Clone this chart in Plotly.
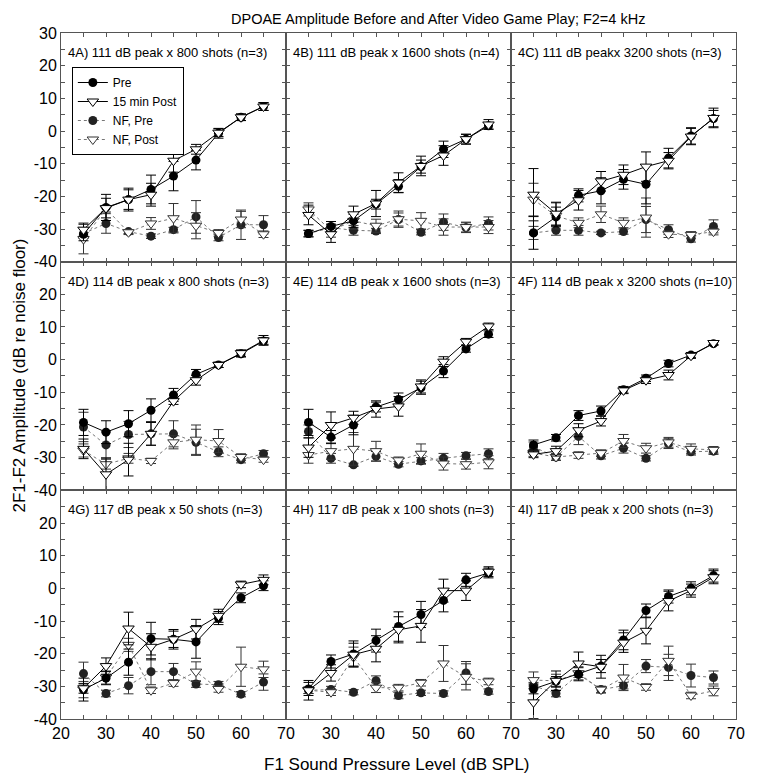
import plotly.graph_objects as go

# ---------------- data ----------------
LEVELS = [25, 30, 35, 40, 45, 50, 55, 60, 65]
PANEL_TITLES = [
    "4A) 111 dB peak x 800 shots (n=3)",
    "4B) 111 dB peak x 1600 shots (n=4)",
    "4C) 111 dB peakx 3200 shots (n=3)",
    "4D) 114 dB peak x 800 shots (n=3)",
    "4E) 114 dB peak x 1600 shots (n=3)",
    "4F) 114 dB peak x 3200 shots (n=10)",
    "4G) 117 dB peak x 50 shots (n=3)",
    "4H) 117 dB peak x 100 shots (n=3)",
    "4I) 117 dB peak x 200 shots (n=3)",
]
SERIES_NAMES = ["Pre", "15 min Post", "NF, Pre", "NF, Post"]
X_TICKS = [20, 30, 40, 50, 60, 70]
Y_TICKS = [-40, -30, -20, -10, 0, 10, 20, 30]

# 4A
pre_4A = [-31.6, -23.4, -21.0, -17.9, -13.8, -8.9, -0.7, 4.2, 7.5]
pre_err_4A = [2, 4, 3.5, 4.4, 4.5, 3, 1.5, 1, 1.2]
post_4A = [-30.2, -23.6, -21.0, -19.5, -9.1, -5.6, -0.5, 4.2, 7.5]
post_err_4A = [2, 3, 3, 3.5, 3.5, 1.5, 1.2, 1, 1.2]
nfpre_4A = [-31.4, -28.3, -30.8, -32.2, -30.2, -26.3, -32.6, -28.7, -28.7]
nfpre_err_4A = [1.5, 3, 0.6, 0.7, 0.7, 5, 1, 4.5, 2.8]
nfpost_4A = [-33.1, -23.8, -31.0, -28.3, -26.7, -29.0, -31.2, -27.1, -31.6]
nfpost_err_4A = [4.5, 1, 0.7, 1.8, 4.5, 4, 1, 2.5, 1]

# 4B
pre_4B = [-31.4, -29.2, -27.5, -22.4, -16.9, -10.9, -5.6, -2.5, 1.6]
pre_err_4B = [1, 1.5, 2, 1.5, 2, 2, 2.5, 1.5, 1]
post_4B = [-25.7, -31.6, -25.5, -22.2, -15.8, -10.7, -7.5, -2.5, 2.0]
post_err_4B = [3, 2.5, 2.5, 4, 3, 3, 3, 1.5, 1.5]
nfpre_4B = [-31.4, -29.6, -30.4, -30.6, -27.1, -31.0, -27.9, -29.6, -28.3]
nfpre_err_4B = [1, 1, 1.5, 0.8, 2, 0.8, 2.5, 1.5, 2]
nfpost_4B = [-24.0, -30.5, -27.5, -29.0, -27.0, -27.5, -29.4, -29.4, -29.4]
nfpost_err_4B = [2, 2, 2.5, 2, 2.5, 2.5, 2.5, 1.5, 2]

# 4C
pre_4C = [-31.2, -26.3, -19.7, -18.3, -14.8, -16.3, -8.3, -1.5, 3.8]
pre_err_4C = [5, 3, 2, 4, 3, 6, 3, 2.5, 2.5]
post_4C = [-19.5, -25.3, -21.2, -15.4, -13.4, -10.9, -9.1, -1.7, 4.0]
post_err_4C = [8, 3.5, 3, 3, 3, 4.5, 2.5, 2.5, 3]
nfpre_4C = [-31.2, -30.4, -30.4, -31.2, -30.8, -27.1, -30.2, -33.0, -29.2]
nfpre_err_4C = [2, 1.5, 1.5, 0.5, 0.8, 4, 1.5, 1, 2]
nfpost_4C = [-21.0, -26.0, -28.1, -25.5, -28.1, -26.5, -31.6, -31.8, -30.8]
nfpost_err_4C = [5, 4, 1.5, 2.5, 1.5, 6, 1, 1, 1]

# 4D
pre_4D = [-19.2, -22.2, -19.6, -15.5, -10.8, -4.5, -1.6, 1.8, 5.7]
pre_err_4D = [4, 3.5, 4, 3.5, 2, 1.5, 0.8, 1, 1]
post_4D = [-27.3, -35.1, -30.6, -22.7, -12.7, -6.3, -1.6, 2.0, 5.9]
post_err_4D = [3, 5, 5, 3.5, 1, 1.5, 0.8, 1, 1.5]
nfpre_4D = [-20.6, -26.1, -22.9, -22.7, -22.7, -25.3, -28.2, -30.6, -28.8]
nfpre_err_4D = [4.5, 4, 4, 3.5, 4, 4, 1.5, 1, 1]
nfpost_4D = [-27.8, -32.0, -30.2, -31.0, -25.3, -24.5, -24.9, -29.8, -30.6]
nfpost_err_4D = [2, 1.5, 1.5, 0.8, 2, 4.5, 3.5, 1, 0.8]

# 4E
pre_4E = [-19.2, -23.7, -20.0, -14.5, -12.2, -8.6, -3.5, 3.3, 7.8]
pre_err_4E = [4, 2, 3, 1.5, 2, 2, 2, 1, 1]
post_4E = [-26.9, -20.0, -17.8, -15.1, -14.3, -8.2, -0.6, 5.5, 10.2]
post_err_4E = [3, 4, 2, 2.5, 3, 2, 1.5, 1, 1]
nfpre_4E = [-22.0, -30.2, -32.2, -29.6, -32.0, -31.0, -30.2, -29.4, -28.8]
nfpre_err_4E = [2, 1.5, 0.5, 1.5, 0.8, 1, 1.5, 1, 1.5]
nfpost_4E = [-29.2, -28.0, -27.3, -28.0, -30.8, -28.8, -31.8, -32.0, -31.4]
nfpost_err_4E = [2.5, 2.5, 5, 3, 1, 3, 2, 1.5, 2]

# 4F
pre_4F = [-26.1, -23.9, -17.1, -15.7, -9.2, -5.7, -1.2, 1.4, 4.9]
pre_err_4F = [1.5, 1, 1.5, 1.5, 1, 1, 1, 0.8, 0.5]
post_4F = [-29.0, -28.0, -21.6, -18.8, -9.4, -6.3, -4.7, 1.2, 5.1]
post_err_4F = [1, 1.5, 2, 1.5, 1, 1, 1.5, 0.8, 0.5]
nfpre_4F = [-26.7, -29.8, -23.5, -29.4, -27.1, -30.2, -25.7, -28.2, -28.0]
nfpre_err_4F = [1.5, 1, 2.5, 1, 1.5, 0.8, 1.5, 1, 1]
nfpost_4F = [-28.6, -29.8, -29.2, -28.6, -24.9, -27.1, -25.3, -27.3, -27.6]
nfpost_err_4F = [1, 1, 1, 1, 2, 1.5, 1.5, 1.5, 1]

# 4G
pre_4G = [-31.0, -27.5, -22.6, -15.4, -15.6, -16.4, -9.1, -2.9, 0.8]
pre_err_4G = [3.5, 2, 4, 5, 2.5, 5, 2, 1.5, 1.5]
post_4G = [-30.6, -23.8, -12.3, -17.9, -15.6, -12.5, -8.4, 1.2, 2.6]
post_err_4G = [1.5, 2.5, 5, 4, 3, 3, 2, 1, 1.5]
nfpre_4G = [-26.1, -32.2, -29.8, -25.5, -25.5, -29.3, -29.5, -32.4, -28.7]
nfpre_err_4G = [3.5, 1, 2.5, 4, 2.5, 1, 1, 0.8, 2.5]
nfpost_4G = [-31.0, -27.3, -17.3, -31.2, -29.0, -25.5, -30.8, -24.0, -24.8]
nfpost_err_4G = [2.5, 2, 2, 1, 1, 3, 1, 6, 2.5]

# 4H
pre_4H = [-30.8, -22.4, -20.1, -16.0, -11.7, -8.0, -3.7, 2.6, 4.7]
pre_err_4H = [2, 2, 4, 3.5, 4.5, 4, 3.5, 2, 1.5]
post_4H = [-31.2, -25.9, -20.3, -18.5, -12.7, -11.5, -0.7, -0.7, 5.1]
post_err_4H = [3, 2.5, 3.5, 4, 4, 5, 3.5, 3, 1.5]
nfpre_4H = [-31.2, -31.0, -31.8, -28.3, -32.8, -32.0, -32.2, -25.9, -31.6]
nfpre_err_4H = [1, 1, 0.8, 1.5, 1, 0.8, 0.8, 3.5, 0.8]
nfpost_4H = [-31.2, -31.8, -21.0, -30.4, -30.4, -28.9, -23.0, -27.1, -28.5]
nfpost_err_4H = [1, 1, 3, 1.5, 1, 1, 5.5, 4, 1]

# 4I
pre_4I = [-30.8, -28.5, -26.3, -23.8, -15.8, -6.8, -2.5, 0.0, 3.9]
pre_err_4I = [1.5, 1.5, 2, 2, 3, 2, 2, 2, 2]
post_4I = [-34.9, -28.3, -23.0, -24.0, -16.6, -13.0, -3.9, -0.7, 3.4]
post_err_4I = [5, 3, 3.5, 3.5, 3, 4, 3, 2, 2]
nfpre_4I = [-29.8, -32.2, -26.3, -31.0, -29.8, -23.8, -24.2, -26.7, -27.3]
nfpre_err_4I = [1, 1, 1, 1, 1, 2, 4, 3.5, 2]
nfpost_4I = [-28.1, -28.3, -26.0, -31.0, -27.3, -30.2, -22.2, -32.8, -31.4]
nfpost_err_4I = [2.5, 2, 2, 1, 4, 1, 4.5, 1, 1.5]

PANELS = [
    (pre_4A, pre_err_4A, post_4A, post_err_4A, nfpre_4A, nfpre_err_4A, nfpost_4A, nfpost_err_4A),
    (pre_4B, pre_err_4B, post_4B, post_err_4B, nfpre_4B, nfpre_err_4B, nfpost_4B, nfpost_err_4B),
    (pre_4C, pre_err_4C, post_4C, post_err_4C, nfpre_4C, nfpre_err_4C, nfpost_4C, nfpost_err_4C),
    (pre_4D, pre_err_4D, post_4D, post_err_4D, nfpre_4D, nfpre_err_4D, nfpost_4D, nfpost_err_4D),
    (pre_4E, pre_err_4E, post_4E, post_err_4E, nfpre_4E, nfpre_err_4E, nfpost_4E, nfpost_err_4E),
    (pre_4F, pre_err_4F, post_4F, post_err_4F, nfpre_4F, nfpre_err_4F, nfpost_4F, nfpost_err_4F),
    (pre_4G, pre_err_4G, post_4G, post_err_4G, nfpre_4G, nfpre_err_4G, nfpost_4G, nfpost_err_4G),
    (pre_4H, pre_err_4H, post_4H, post_err_4H, nfpre_4H, nfpre_err_4H, nfpost_4H, nfpost_err_4H),
    (pre_4I, pre_err_4I, post_4I, post_err_4I, nfpre_4I, nfpre_err_4I, nfpost_4I, nfpost_err_4I),
]

# ---------------- figure ----------------
FONT = "Liberation Sans, Arial, sans-serif"
AXC = "#555555"
# page body has an 8px margin, so the figure is sized to fit inside it
W, H = 747, 767
ML, MR, MT, MB = 53, 10, 25, 56
pw = W - ML - MR
ph = H - MT - MB
OFF = 8  # body margin offset in the page


def px_to_paper(xp, yp):
    """convert window pixel position to paper coordinates"""
    return (xp - OFF - ML) / pw, 1 - (yp - OFF - MT) / ph


fig = go.Figure()

styles = [
    dict(mode="lines+markers", line=dict(color="black", width=1),
         marker=dict(symbol="circle", size=9, color="black")),
    dict(mode="lines+markers", line=dict(color="black", width=1),
         marker=dict(symbol="triangle-down", size=10, color="white",
                     line=dict(color="black", width=1))),
    dict(mode="lines+markers", line=dict(color="#777777", width=1, dash="dot"),
         marker=dict(symbol="circle", size=9, color="#222222")),
    dict(mode="lines+markers", line=dict(color="#777777", width=1, dash="dot"),
         marker=dict(symbol="triangle-down", size=10, color="white",
                     line=dict(color="#333333", width=1))),
]
draw_order = [2, 3, 0, 1]

for i, pdata in enumerate(PANELS):
    ax = "" if i == 0 else str(i + 1)
    for s in draw_order:
        vals = pdata[2 * s]
        errs = pdata[2 * s + 1]
        st = styles[s]
        fig.add_trace(go.Scatter(
            x=LEVELS, y=vals, name=SERIES_NAMES[s],
            xaxis="x" + ax, yaxis="y" + ax,
            mode=st["mode"], line=st["line"], marker=st["marker"],
            error_y=dict(type="data", array=errs, visible=True,
                         color="black" if s < 2 else "#333333",
                         thickness=1, width=5),
            showlegend=(i == 0), legendrank=s + 1,
        ))

layout_axes = {}
for i in range(9):
    r, c = divmod(i, 3)
    ax = "" if i == 0 else str(i + 1)
    xd = [c / 3, (c + 1) / 3]
    yd = [1 - (r + 1) / 3, 1 - r / 3]
    xt = list(range(20, 71, 5))
    xl = []
    for v in xt:
        if v in X_TICKS and r == 2 and not (c > 0 and v == 20):
            xl.append(str(v))
        else:
            xl.append("")
    yt = list(range(-40, 31, 5))
    yl = []
    for v in yt:
        if v in Y_TICKS and c == 0 and not (r > 0 and v == 30):
            yl.append(str(v))
        else:
            yl.append("")
    layout_axes["xaxis" + ax] = dict(
        domain=xd, range=[20, 70], anchor="y" + ax,
        tickmode="array", tickvals=xt, ticktext=xl,
        ticks="inside", ticklen=4, tickcolor=AXC, mirror="ticks",
        showline=True, linecolor=AXC, linewidth=1, showgrid=False,
        zeroline=False, tickfont=dict(family=FONT, size=16, color="black"),
    )
    layout_axes["yaxis" + ax] = dict(
        domain=yd, range=[-40, 30], anchor="x" + ax,
        tickmode="array", tickvals=yt, ticktext=yl,
        ticks="inside", ticklen=4, tickcolor=AXC, mirror="ticks",
        showline=True, linecolor=AXC, linewidth=1, showgrid=False,
        zeroline=False, tickfont=dict(family=FONT, size=16, color="black"),
    )

annotations = []
for i, t in enumerate(PANEL_TITLES):
    ax = "" if i == 0 else str(i + 1)
    annotations.append(dict(
        text=t, xref="x" + ax + " domain", yref="y" + ax + " domain",
        x=0.02, y=0.915, xanchor="left", yanchor="middle", showarrow=False,
        font=dict(family=FONT, size=13, color="black"),
    ))

tx, ty = px_to_paper(443, 9)
annotations.append(dict(
    text="DPOAE Amplitude Before and After Video Game Play; F2=4 kHz",
    xref="paper", yref="paper", x=tx, y=ty,
    xanchor="center", yanchor="top", showarrow=False,
    font=dict(family=FONT, size=14.5, color="black"),
))
xx, xy = px_to_paper(401, 764)
annotations.append(dict(
    text="F1 Sound Pressure Level (dB SPL)",
    xref="paper", yref="paper", x=xx, y=xy,
    xanchor="center", yanchor="middle", showarrow=False,
    font=dict(family=FONT, size=17, color="black"),
))
yx, _ = px_to_paper(18, 0)
annotations.append(dict(
    text="2F1-F2 Amplitude (dB re noise floor)",
    xref="paper", yref="paper", x=yx, y=0.5,
    xanchor="center", yanchor="middle", showarrow=False, textangle=-90,
    font=dict(family=FONT, size=17, color="black"),
))

lx, ly = px_to_paper(72, 67)
fig.update_layout(
    width=W, height=H,
    margin=dict(l=ML, r=MR, t=MT, b=MB),
    paper_bgcolor="white", plot_bgcolor="white",
    showlegend=True,
    legend=dict(
        x=lx, y=ly, xanchor="left", yanchor="top",
        bordercolor="black", borderwidth=1, bgcolor="white",
        font=dict(family=FONT, size=12, color="black"),
        tracegroupgap=0, itemwidth=30,
    ),
    annotations=annotations,
    **layout_axes,
)

fig.write_html("out.html")
